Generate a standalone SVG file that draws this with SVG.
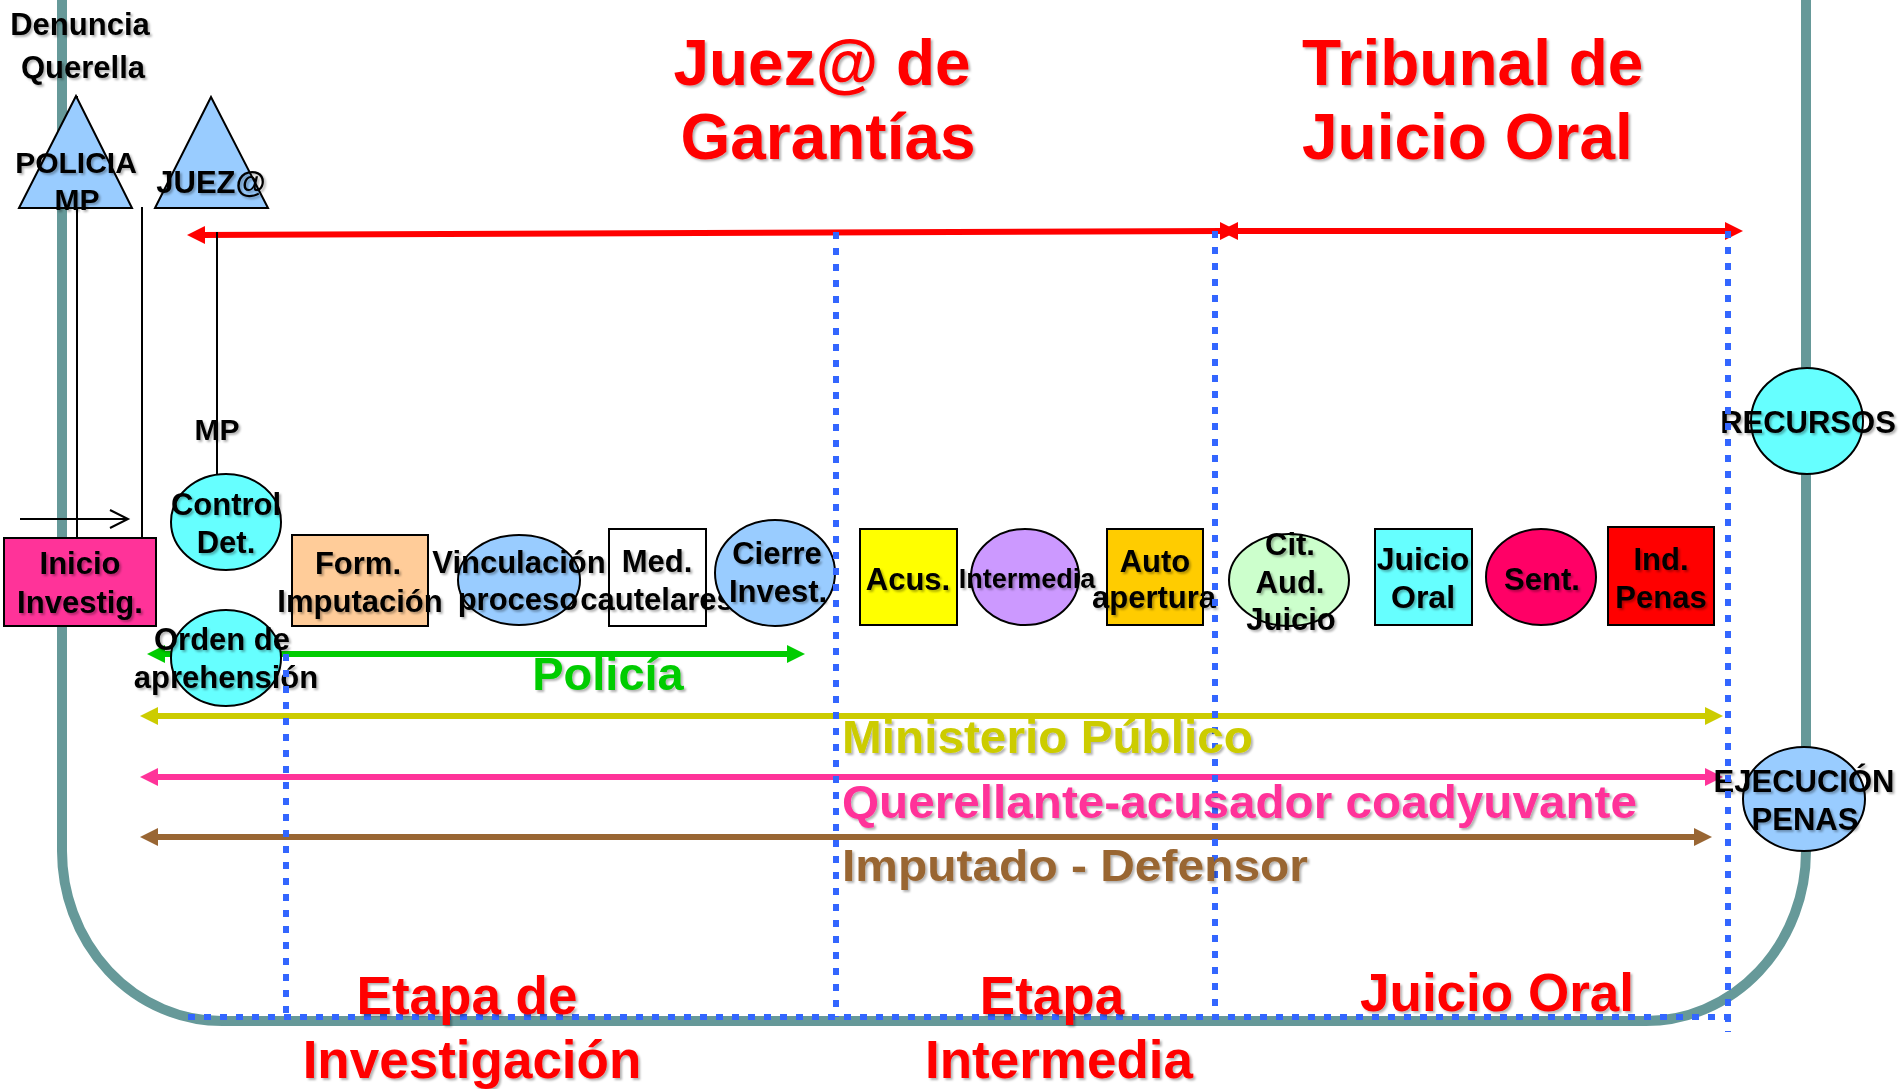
<svg xmlns="http://www.w3.org/2000/svg" width="1899" height="1089" viewBox="0 0 1899 1089">
<defs>
<style>
text{font-family:"Liberation Sans",Arial,sans-serif;font-weight:bold;filter:url(#sh)}
.n{font-size:31px;fill:#000;text-anchor:middle}
.big{font-size:64px;fill:#FF0000}
.stage{font-size:53px;fill:#FF0000;text-anchor:middle}
.shape{stroke:#000;stroke-width:2}
.dot{stroke:#3366FF;stroke-width:6;stroke-dasharray:7 9;fill:none}
.thin{stroke:#000;stroke-width:2;fill:none}
</style>
<filter id="sh" x="-10%" y="-20%" width="125%" height="150%">
<feDropShadow dx="2" dy="2" stdDeviation="1.2" flood-color="#000" flood-opacity="0.3"/>
</filter>
<marker id="mRed" markerUnits="userSpaceOnUse" viewBox="0 0 18 18" markerWidth="18" markerHeight="18" refX="4" refY="9" orient="auto-start-reverse"><path d="M0,0 L18,9 L0,18 z" fill="#FF0000"/></marker>
<marker id="mGreen" markerUnits="userSpaceOnUse" viewBox="0 0 18 18" markerWidth="18" markerHeight="18" refX="4" refY="9" orient="auto-start-reverse"><path d="M0,0 L18,9 L0,18 z" fill="#00CC00"/></marker>
<marker id="mYellow" markerUnits="userSpaceOnUse" viewBox="0 0 18 18" markerWidth="18" markerHeight="18" refX="4" refY="9" orient="auto-start-reverse"><path d="M0,0 L18,9 L0,18 z" fill="#CCCC00"/></marker>
<marker id="mPink" markerUnits="userSpaceOnUse" viewBox="0 0 18 18" markerWidth="18" markerHeight="18" refX="4" refY="9" orient="auto-start-reverse"><path d="M0,0 L18,9 L0,18 z" fill="#FF3399"/></marker>
<marker id="mBrown" markerUnits="userSpaceOnUse" viewBox="0 0 18 18" markerWidth="18" markerHeight="18" refX="4" refY="9" orient="auto-start-reverse"><path d="M0,0 L18,9 L0,18 z" fill="#996633"/></marker>
</defs>
<rect width="1899" height="1089" fill="#FFFFFF"/>

<!-- frame -->
<path id="frame" d="M62,0 V850 A160,170 0 0 0 222,1021 H1646 A160,170 0 0 0 1806,851 V0" fill="none" stroke="#669999" stroke-width="10"/>

<g id="connectors">
<line x1="201" y1="235" x2="1224" y2="231" stroke="#FF0000" stroke-width="6" marker-start="url(#mRed)" marker-end="url(#mRed)"/>
<line x1="1234" y1="231" x2="1729" y2="231" stroke="#FF0000" stroke-width="6" marker-start="url(#mRed)" marker-end="url(#mRed)"/>
<line x1="161" y1="654" x2="791" y2="654" stroke="#00CC00" stroke-width="6" marker-start="url(#mGreen)" marker-end="url(#mGreen)"/>
<line x1="154" y1="716" x2="1709" y2="716" stroke="#CCCC00" stroke-width="6" marker-start="url(#mYellow)" marker-end="url(#mYellow)"/>
<line x1="154" y1="777" x2="1709" y2="777" stroke="#FF3399" stroke-width="6" marker-start="url(#mPink)" marker-end="url(#mPink)"/>
<line x1="154" y1="837" x2="1698" y2="837" stroke="#996633" stroke-width="6" marker-start="url(#mBrown)" marker-end="url(#mBrown)"/>
<line class="thin" x1="77" y1="96" x2="77" y2="538"/>
<line class="thin" x1="142" y1="207" x2="142" y2="538"/>
<line class="thin" x1="217" y1="232" x2="217" y2="474"/>
<line class="thin" x1="20" y1="519" x2="127" y2="519"/>
<polyline class="thin" points="110,510 128,519 110,528"/>
</g>

<g id="n-denuncia">
<text class="n" x="80" y="35" font-size="29">Denuncia</text>
<text class="n" x="83" y="78" font-size="29">Querella</text>
</g>
<g id="n-policia">
<polygon class="shape" points="76,96 19,208 132,208" fill="#99CCFF"/>
<text class="n" x="76" y="173" style="font-size:30px">POLICIA</text>
<text class="n" x="77" y="210" style="font-size:30px">MP</text>
</g>
<g id="n-juez">
<polygon class="shape" points="211,97 155,208 268,208" fill="#99CCFF"/>
<text class="n" x="211" y="193">JUEZ@</text>
</g>
<g id="n-mp">
<text class="n" x="217" y="440" style="font-size:30px">MP</text>
</g>
<g id="n-control">
<ellipse class="shape" cx="226" cy="522" rx="55" ry="48" fill="#66FFFF"/>
<text class="n" x="226" y="515">Control</text>
<text class="n" x="226" y="553">Det.</text>
</g>
<g id="n-inicio">
<rect class="shape" x="4" y="538" width="152" height="88" fill="#FF3399"/>
<text class="n" x="80" y="574">Inicio</text>
<text class="n" x="80" y="613">Investig.</text>
</g>
<g id="n-orden">
<ellipse class="shape" cx="226" cy="658" rx="55" ry="48" fill="#66FFFF"/>
<text class="n" x="222" y="650">Orden de</text>
<text class="n" x="226" y="688">aprehensión</text>
</g>
<g id="n-form">
<rect class="shape" x="292" y="535" width="136" height="91" fill="#FFCC99"/>
<text class="n" x="358" y="574">Form.</text>
<text class="n" x="360" y="612">Imputación</text>
</g>
<g id="n-vinc">
<ellipse class="shape" cx="519" cy="580" rx="61" ry="45" fill="#99CCFF"/>
<text class="n" x="519" y="573">Vinculación</text>
<text class="n" x="518" y="610">proceso</text>
</g>
<g id="n-med">
<rect class="shape" x="609" y="529" width="97" height="97" fill="#FFFFFF"/>
<text class="n" x="657" y="572">Med.</text>
<text class="n" x="657" y="610">cautelares</text>
</g>
<g id="n-cierre">
<ellipse class="shape" cx="775" cy="573" rx="60" ry="53" fill="#99CCFF"/>
<text class="n" x="777" y="564">Cierre</text>
<text class="n" x="778" y="602">Invest.</text>
</g>
<g id="n-acus">
<rect class="shape" x="860" y="529" width="97" height="96" fill="#FFFF00"/>
<text class="n" x="908" y="590">Acus.</text>
</g>
<g id="n-intermedia">
<ellipse class="shape" cx="1025" cy="577" rx="54" ry="48" fill="#CC99FF"/>
<text class="n" x="1027" y="588" style="font-size:27px">Intermedia</text>
</g>
<g id="n-auto">
<rect class="shape" x="1107" y="529" width="96" height="96" fill="#FFCC00"/>
<text class="n" x="1155" y="572">Auto</text>
<text class="n" x="1154" y="608">apertura</text>
</g>
<g id="n-cit">
<ellipse class="shape" cx="1289" cy="580" rx="60" ry="46" fill="#CCFFCC"/>
<text class="n" x="1290" y="555">Cit.</text>
<text class="n" x="1290" y="593">Aud.</text>
<text class="n" x="1291" y="630">Juicio</text>
</g>
<g id="n-juicio">
<rect class="shape" x="1375" y="529" width="97" height="96" fill="#66FFFF"/>
<text class="n" x="1423" y="570" style="font-size:32px">Juicio</text>
<text class="n" x="1423" y="608" style="font-size:32px">Oral</text>
</g>
<g id="n-sent">
<ellipse class="shape" cx="1541" cy="577" rx="55" ry="48" fill="#FF0066"/>
<text class="n" x="1542" y="590">Sent.</text>
</g>
<g id="n-ind">
<rect class="shape" x="1608" y="527" width="106" height="98" fill="#FF0000"/>
<text class="n" x="1661" y="570">Ind.</text>
<text class="n" x="1661" y="608">Penas</text>
</g>
<g id="n-recursos">
<ellipse class="shape" cx="1807" cy="421" rx="56" ry="53" fill="#66FFFF"/>
<text class="n" x="1808" y="433">RECURSOS</text>
</g>
<g id="n-ejec">
<ellipse class="shape" cx="1804" cy="799" rx="61" ry="52" fill="#99CCFF"/>
<text class="n" x="1804" y="792">EJECUCIÓN</text>
<text class="n" x="1805" y="830">PENAS</text>
</g>

<g id="dividers">
<line class="dot" x1="286" y1="654" x2="286" y2="1017"/>
<line class="dot" x1="836" y1="232" x2="836" y2="1017"/>
<line class="dot" x1="1215" y1="231" x2="1215" y2="1017"/>
<line class="dot" x1="1728" y1="231" x2="1728" y2="1032"/>
<line class="dot" x1="188" y1="1017" x2="1732" y2="1017"/>
</g>

<g id="labels">
<text class="big" x="822" y="85" text-anchor="middle">Juez@ de</text>
<text class="big" x="828" y="159" text-anchor="middle">Garantías</text>
<text class="big" x="1302" y="85">Tribunal de</text>
<text class="big" x="1302" y="159">Juicio Oral</text>
<text x="608" y="690" text-anchor="middle" font-size="47" fill="#00CC00">Policía</text>
<text x="842" y="753" font-size="46" fill="#CCCC00" textLength="411" lengthAdjust="spacingAndGlyphs">Ministerio Público</text>
<text x="842" y="818" font-size="47" fill="#FF3399" textLength="795" lengthAdjust="spacingAndGlyphs">Querellante-acusador coadyuvante</text>
<text x="842" y="881" font-size="45" fill="#996633" textLength="466" lengthAdjust="spacingAndGlyphs">Imputado - Defensor</text>
<text class="stage" x="467" y="1014">Etapa de</text>
<text class="stage" x="472" y="1078">Investigación</text>
<text class="stage" x="1052" y="1014">Etapa</text>
<text class="stage" x="1059" y="1078">Intermedia</text>
<text class="stage" x="1497" y="1011">Juicio Oral</text>
</g>
</svg>
